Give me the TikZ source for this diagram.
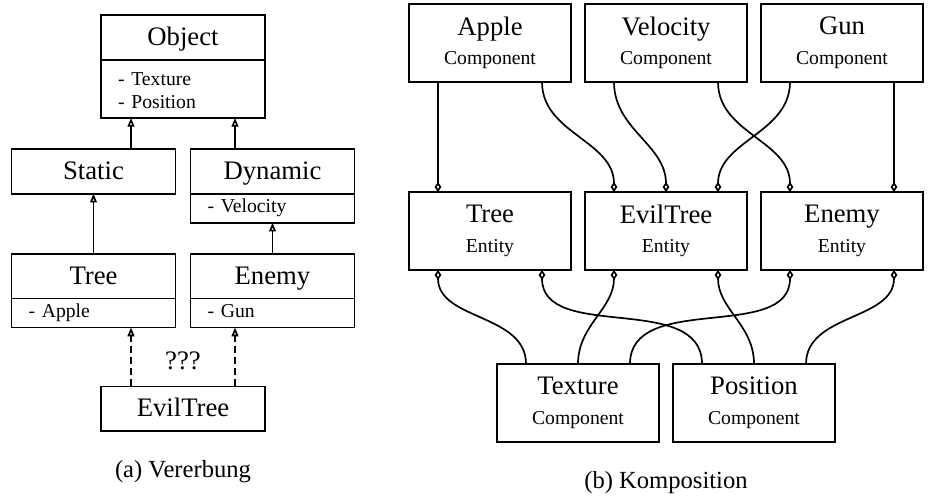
\documentclass[tikz,border=0pt]{standalone}
\usepackage{fontspec}
\setmainfont{Liberation Serif}
\usepackage{tikz}
\usetikzlibrary{
    arrows.meta,
    positioning
}
\newcommand{\boxkind}{\fontsize{14}{16}\selectfont}
\tikzset{
    % UML class header
    classtitle/.style={
        rectangle,
        draw=black,
        line width=1.2pt,
        outer sep=0pt,
        minimum width=4.1cm,
        minimum height=1.12cm,
        text height=11.5pt,
        text depth=0pt,
        font=\fontsize{19}{22}\selectfont,
        inner sep=0pt
    },
    % UML attribute compartment
    classattr/.style={
        rectangle,
        draw=black,
        line width=1.2pt,
        outer sep=0pt,
        text width=3.24cm,
        inner xsep=0.43cm,
        inner ysep=0pt,
        align=left,
        minimum height=#1,
        execute at begin node=\strut,
        font=\fontsize{14}{16.5}\selectfont
    },
    classattr/.default=0.725cm,
    % Component / entity box
    ecsbox/.style={
        rectangle,
        draw=black,
        line width=1.2pt,
        outer sep=0pt,
        minimum width=4.05cm,
        minimum height=1.95cm,
        align=center,
        font=\fontsize{19}{21}\selectfont
    },
    % Inheritance arrow
    inherit/.style={
        -{Triangle[open, length=0.22cm, width=0.17cm]},
        line width=1.2pt
    },
    % Aggregation connector
    aggr/.style={
        -{Diamond[open, length=0.25cm, width=0.17cm]},
        line width=1.2pt
    },
    % Sub-figure caption
    captiontext/.style={
        font=\fontsize{17.5}{20}\selectfont
    }
}

\begin{document}
\begin{tikzpicture}
    \useasboundingbox (0,0) rectangle (23.7,-12.45);

    % (a) Inheritance hierarchy
    \node[classtitle] (object) at (4.575,-0.9375) {Object};
    \node[classattr=1.45cm, below=0pt of object] (object-attr) {- Texture\\- Position};
    \node[classtitle, below=0.775cm of object-attr, xshift=-2.2375cm] (static) {Static};
    \node[classtitle, right=0.375cm of static] (dynamic) {Dynamic};
    \node[classattr, below=0pt of dynamic] (dynamic-attr) {- Velocity};
    \node[classtitle, below=1.5cm of static] (tree) {Tree};
    \node[classattr, below=0pt of tree] (tree-attr) {- Apple};
    \node[classtitle, right=0.375cm of tree] (enemy) {Enemy};
    \node[classattr, below=0pt of enemy] (enemy-attr) {- Gun};
    \node[classtitle, below=1.475cm of tree-attr, xshift=2.2375cm] (eviltree) {EvilTree};
    \node[font=\fontsize{19}{22}\selectfont, above=0.3cm of eviltree] (unknown) {???};
    \node[captiontext, below=0.6cm of eviltree] (cap-a) {(a) Vererbung};

    % Inheritance arrows
    \draw[inherit] ([xshift=-1.3cm]static.north -| object-attr.south) -- ([xshift=-1.3cm]object-attr.south);
    \draw[inherit] ([xshift=1.3cm]dynamic.north -| object-attr.south) -- ([xshift=1.3cm]object-attr.south);
    \draw[inherit] (tree.north) -- (static.south);
    \draw[inherit] (enemy.north) -- (dynamic-attr.south);
    \draw[inherit, dash pattern=on 5pt off 3pt] ([xshift=-1.3cm]eviltree.north) -- ([xshift=-1.3cm]eviltree.north |- tree-attr.south);
    \draw[inherit, dash pattern=on 5pt off 3pt] ([xshift=1.3cm]eviltree.north) -- ([xshift=1.3cm]eviltree.north |- enemy-attr.south);

    % (b) Composition
    \node[ecsbox] (apple-comp) at (12.25,-1.075) {Apple\\{\boxkind Component}};
    \node[ecsbox, right=0.35cm of apple-comp] (velocity-comp) {Velocity\\{\boxkind Component}};
    \node[ecsbox, right=0.35cm of velocity-comp] (gun-comp) {Gun\\{\boxkind Component}};
    \node[ecsbox, below=2.75cm of apple-comp] (tree-ent) {Tree\\{\boxkind Entity}};
    \node[ecsbox, below=2.75cm of velocity-comp] (eviltree-ent) {EvilTree\\{\boxkind Entity}};
    \node[ecsbox, below=2.75cm of gun-comp] (enemy-ent) {Enemy\\{\boxkind Entity}};
    \node[ecsbox, below=2.35cm of tree-ent, xshift=2.2cm] (texture-comp) {Texture\\{\boxkind Component}};
    \node[ecsbox, right=0.35cm of texture-comp] (position-comp) {Position\\{\boxkind Component}};
    \node[captiontext, below=0.6cm of texture-comp.south east, xshift=0.175cm] (cap-b) {(b) Komposition};

    % Upper components to entities
    \draw[aggr] ([xshift=-1.3cm]apple-comp.south) -- ([xshift=-1.3cm]tree-ent.north);
    \draw[aggr] ([xshift=1.3cm]apple-comp.south) to[out=-90, in=90] ([xshift=-1.3cm]eviltree-ent.north);
    \draw[aggr] ([xshift=-1.3cm]velocity-comp.south) to[out=-90, in=90] (eviltree-ent.north);
    \draw[aggr] ([xshift=1.3cm]velocity-comp.south) to[out=-90, in=90] ([xshift=-1.3cm]enemy-ent.north);
    \draw[aggr] ([xshift=-1.3cm]gun-comp.south) to[out=-90, in=90] ([xshift=1.3cm]eviltree-ent.north);
    \draw[aggr] ([xshift=1.3cm]gun-comp.south) -- ([xshift=1.3cm]enemy-ent.north);

    % Lower components to entities
    \draw[aggr] ([xshift=-1.3cm]texture-comp.north) to[out=90, in=-90] ([xshift=-1.3cm]tree-ent.south);
    \draw[aggr] ([xshift=-1.3cm]position-comp.north) to[out=90, in=-90] ([xshift=1.3cm]tree-ent.south);
    \draw[aggr] (texture-comp.north) to[out=90, in=-90] ([xshift=-1.3cm]eviltree-ent.south);
    \draw[aggr] (position-comp.north) to[out=90, in=-90] ([xshift=1.3cm]eviltree-ent.south);
    \draw[aggr] ([xshift=1.3cm]texture-comp.north) to[out=90, in=-90] ([xshift=-1.3cm]enemy-ent.south);
    \draw[aggr] ([xshift=1.3cm]position-comp.north) to[out=90, in=-90] ([xshift=1.3cm]enemy-ent.south);

\end{tikzpicture}
\end{document}
